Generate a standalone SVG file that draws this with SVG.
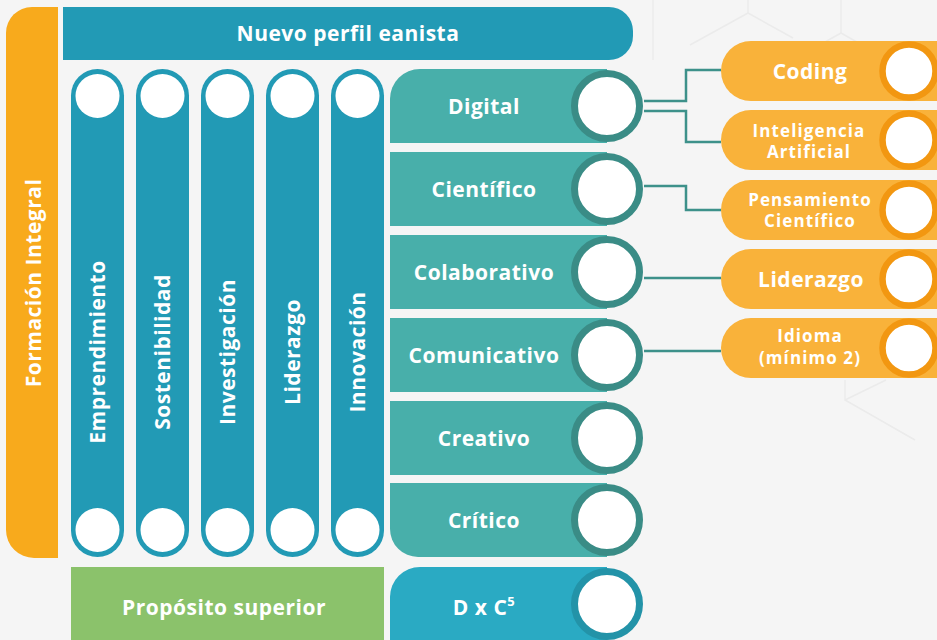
<svg xmlns="http://www.w3.org/2000/svg" width="937" height="640" viewBox="0 0 937 640">
<style>
text { font-family: "Open Sans", "Liberation Sans", sans-serif; font-weight: 700; fill: #ffffff; }
.lbl { font-size: 21px; letter-spacing: 0.5px; text-anchor: middle; }
.sm { font-size: 17px; letter-spacing: 1.1px; text-anchor: middle; }
.col { fill: #229AB5; }
.hole { fill: #ffffff; }
.row { fill: #48AFAA; }
.ring { fill: #ffffff; stroke: #3A8C86; stroke-width: 7; }
.pill { fill: #F9B23A; }
.pring { fill: #ffffff; stroke: #F29711; stroke-width: 6.5; }
.conn { fill: none; stroke: #3D918A; stroke-width: 2.5; }
.hex { fill: none; stroke: #ebebeb; stroke-width: 1.5; }
</style>
<rect x="0" y="0" width="937" height="640" fill="#F5F5F5"/>
<g id="background-pattern">
  <path class="hex" d="M653,0 V60 M748,0 V13 L793,38 M748,13 L690,45 M841,0 V33 L885,58 M841,33 L800,56 M845,380 V400 L915,440 M845,400 L886,380"/>
</g>

<g id="formacion-integral">
  <path d="M58,7 H32 A26,26 0 0 0 6,33 V530 A28,28 0 0 0 34,558 H58 Z" fill="#F8AA1C"/>
  <text class="lbl" transform="translate(41,283) rotate(-90)">Formación Integral</text>
</g>

<g id="nuevo-perfil">
  <path d="M63,7 H609 A24,24 0 0 1 633,31 V36 A24,24 0 0 1 609,60 H63 Z" fill="#229AB5"/>
  <text class="lbl" x="348" y="41">Nuevo perfil eanista</text>
</g>

<g id="col-emprendimiento">
  <rect class="col" x="71" y="69" width="53" height="488" rx="26.5"/>
  <circle class="hole" cx="97.5" cy="96" r="22"/>
  <circle class="hole" cx="97.5" cy="530" r="22"/>
  <text class="lbl" transform="translate(105,352) rotate(-90)">Emprendimiento</text>
</g>
<g id="col-sostenibilidad">
  <rect class="col" x="136" y="69" width="53" height="488" rx="26.5"/>
  <circle class="hole" cx="162.5" cy="96" r="22"/>
  <circle class="hole" cx="162.5" cy="530" r="22"/>
  <text class="lbl" transform="translate(170,352) rotate(-90)">Sostenibilidad</text>
</g>
<g id="col-investigacion">
  <rect class="col" x="201" y="69" width="53" height="488" rx="26.5"/>
  <circle class="hole" cx="227.5" cy="96" r="22"/>
  <circle class="hole" cx="227.5" cy="530" r="22"/>
  <text class="lbl" transform="translate(235,352) rotate(-90)">Investigación</text>
</g>
<g id="col-liderazgo">
  <rect class="col" x="266" y="69" width="53" height="488" rx="26.5"/>
  <circle class="hole" cx="292.5" cy="96" r="22"/>
  <circle class="hole" cx="292.5" cy="530" r="22"/>
  <text class="lbl" transform="translate(300,352) rotate(-90)">Liderazgo</text>
</g>
<g id="col-innovacion">
  <rect class="col" x="331" y="69" width="53" height="488" rx="26.5"/>
  <circle class="hole" cx="357.5" cy="96" r="22"/>
  <circle class="hole" cx="357.5" cy="530" r="22"/>
  <text class="lbl" transform="translate(365,352) rotate(-90)">Innovación</text>
</g>

<g id="row-digital">
  <path class="row" d="M390,99 A30,30 0 0 1 420,69 H607 V143 H390 Z"/>
  <circle class="ring" cx="607" cy="106" r="32.5"/>
  <text class="lbl" x="484" y="114">Digital</text>
</g>
<g id="row-cientifico">
  <rect class="row" x="390" y="152" width="217" height="74"/>
  <circle class="ring" cx="607" cy="189" r="32.5"/>
  <text class="lbl" x="484" y="197">Científico</text>
</g>
<g id="row-colaborativo">
  <rect class="row" x="390" y="235" width="217" height="74"/>
  <circle class="ring" cx="607" cy="272" r="32.5"/>
  <text class="lbl" x="484" y="280">Colaborativo</text>
</g>
<g id="row-comunicativo">
  <rect class="row" x="390" y="318" width="217" height="74"/>
  <circle class="ring" cx="607" cy="355" r="32.5"/>
  <text class="lbl" x="484" y="363">Comunicativo</text>
</g>
<g id="row-creativo">
  <rect class="row" x="390" y="401" width="217" height="74"/>
  <circle class="ring" cx="607" cy="438" r="32.5"/>
  <text class="lbl" x="484" y="446">Creativo</text>
</g>
<g id="row-critico">
  <path class="row" d="M390,483 H607 V557 H418 A28,28 0 0 1 390,529 Z"/>
  <circle class="ring" cx="607" cy="520" r="32.5"/>
  <text class="lbl" x="484" y="528">Crítico</text>
</g>

<g id="proposito-superior">
  <rect x="71" y="567" width="313" height="80" fill="#8BC26B"/>
  <text class="lbl" x="224" y="615">Propósito superior</text>
</g>
<g id="dxc5">
  <path d="M390,597 A30,30 0 0 1 420,567 H607 V645 H390 Z" fill="#2AAAC3"/>
  <circle cx="607" cy="604" r="32.5" fill="#ffffff" stroke="#2393A8" stroke-width="7"/>
  <text class="lbl" x="484" y="615">D x C<tspan font-size="13" dy="-9">5</tspan></text>
</g>

<g id="connectors">
  <path class="conn" d="M644,101 H686 V70 H721"/>
  <path class="conn" d="M644,111 H686 V142 H721"/>
  <path class="conn" d="M644,186 H686 V210 H721"/>
  <path class="conn" d="M644,278 H721"/>
  <path class="conn" d="M644,351 H721"/>
</g>

<g id="pill-coding">
  <rect class="pill" x="721" y="41" width="260" height="60" rx="30"/>
  <circle class="pring" cx="909" cy="71" r="26.5"/>
  <text class="lbl" x="810" y="79">Coding</text>
</g>
<g id="pill-ia">
  <rect class="pill" x="721" y="110" width="260" height="60" rx="30"/>
  <circle class="pring" cx="909" cy="140" r="26.5"/>
  <text class="sm" x="809" y="137">Inteligencia</text>
  <text class="sm" x="809" y="158">Artificial</text>
</g>
<g id="pill-pensamiento">
  <rect class="pill" x="721" y="180" width="260" height="60" rx="30"/>
  <circle class="pring" cx="909" cy="210" r="26.5"/>
  <text class="sm" x="810" y="206">Pensamiento</text>
  <text class="sm" x="810" y="227">Científico</text>
</g>
<g id="pill-liderazgo">
  <rect class="pill" x="721" y="249" width="260" height="60" rx="30"/>
  <circle class="pring" cx="909" cy="279" r="26.5"/>
  <text class="lbl" x="811" y="287">Liderazgo</text>
</g>
<g id="pill-idioma">
  <rect class="pill" x="721" y="318" width="260" height="60" rx="30"/>
  <circle class="pring" cx="909" cy="348" r="26.5"/>
  <text class="sm" x="810" y="342">Idioma</text>
  <text class="sm" x="810" y="364">(mínimo 2)</text>
</g>
</svg>
